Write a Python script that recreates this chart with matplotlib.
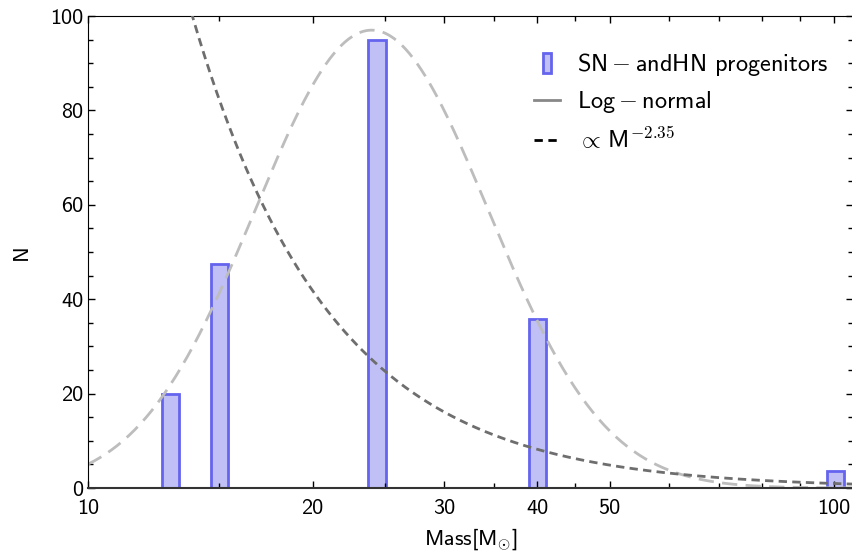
import matplotlib
matplotlib.use("Agg")
import matplotlib.pyplot as plt
import numpy as np
from matplotlib.lines import Line2D
from matplotlib.patches import Patch, Rectangle
from matplotlib.legend_handler import HandlerPatch
from matplotlib.ticker import FixedLocator, NullFormatter

# progenitor masses (Msun) and counts
masses = [12.9, 15.0, 24.4, 40.0, 100.5]
counts = [20.0, 47.5, 95.0, 35.7, 3.6]

# log-normal curve parameters (peak mass, width in ln M, peak height)
ln_mu = 24.0
ln_sigma = 0.36
ln_amp = 97.0

# power law: reaches N=100 at this mass
pl_slope = -2.35
pl_m100 = 13.8

xticks_major = [10, 20, 30, 40, 50, 100]
xticks_minor = [15, 25, 35, 45, 60, 70, 80, 90]

plt.rcParams["font.family"] = ["cmss10", "DejaVu Sans"]
plt.rcParams["mathtext.fontset"] = "cm"
plt.rcParams["axes.unicode_minus"] = False
fs = 16

fig = plt.figure(figsize=(8.53, 5.54), dpi=100)
ax = fig.add_axes([88 / 853, 1 - 488 / 554, (853 - 88) / 853, (488 - 16) / 554])

# bars of constant width in log space
dlog = 0.0115
lefts = [m * 10 ** (-dlog) for m in masses]
widths = [m * 10 ** dlog - m * 10 ** (-dlog) for m in masses]
ax.bar(lefts, counts, width=widths, align="edge", facecolor="#c0c0f7",
       edgecolor="#6464ee", linewidth=2, zorder=1)

mgrid = np.logspace(1, np.log10(110), 400)
lognorm = ln_amp * np.exp(-(np.log(mgrid / ln_mu)) ** 2 / (2 * ln_sigma ** 2))
power = 100 * (mgrid / pl_m100) ** pl_slope
ax.plot(mgrid, lognorm, color="#bdbdbd", lw=2, dashes=(5.5, 3), zorder=2)
ax.plot(mgrid, power, color="#6e6e6e", lw=2, dashes=(3, 1.9), zorder=3)

ax.set_xscale("log")
ax.set_xlim(10, 106)
ax.set_ylim(0, 100)
ax.xaxis.set_major_locator(FixedLocator(xticks_major))
ax.xaxis.set_minor_locator(FixedLocator(xticks_minor))
ax.set_xticklabels([str(t) for t in xticks_major])
ax.xaxis.set_minor_formatter(NullFormatter())
ax.set_yticks([0, 20, 40, 60, 80, 100])
ax.set_yticks(np.arange(0, 101, 5), minor=True)
ax.tick_params(which="both", direction="in", top=True, right=True, labelsize=fs)
ax.tick_params(which="major", length=5, width=1)
ax.tick_params(which="minor", length=3.5, width=1)
ax.tick_params(axis="x", which="both", pad=8)
ax.spines["bottom"].set_color("#333333")
ax.spines["bottom"].set_linewidth(1.5)

ax.set_xlabel(r"Mass[$\mathsf{M}_{\odot}$]", fontsize=fs, labelpad=6)
ax.set_ylabel("N", fontsize=fs, labelpad=14)


def narrow_patch(legend, orig_handle, xdescent, ydescent, width, height, fontsize):
    w = width * 0.33
    return Rectangle((-xdescent + width * 0.5 - w / 2, -ydescent - height * 0.1), w, height * 1.2)


handles = [
    Patch(facecolor="#c0c0f7", edgecolor="#6464ee", linewidth=2),
    Line2D([], [], color="#888888", lw=2),
    Line2D([], [], color="black", lw=2, dashes=(3, 2)),
]
labels = [
    r"$\mathsf{SN - and HN}$ progenitors",
    r"$\mathsf{Log - normal}$",
    r"${\propto}\,\mathsf{M^{-2.35}}$",
]
ax.legend(handles, labels, loc="upper left", bbox_to_anchor=((534 - 88) / 765, 0.925),
          frameon=False, borderaxespad=0, borderpad=0,
          fontsize=17.5, handlelength=1.05, handletextpad=0.7, labelspacing=0.45,
          handler_map={Patch: HandlerPatch(patch_func=narrow_patch)})

fig.savefig("out.png", dpi=100)
